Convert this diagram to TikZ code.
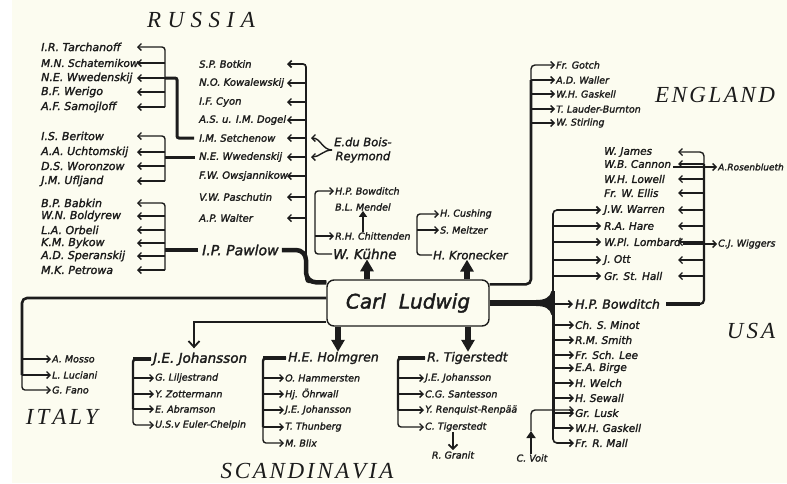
\documentclass[tikz,border=0pt]{standalone}
\usepackage{fontspec}
\setmainfont{Liberation Serif}
\newfontfamily\nmf{DejaVu Sans}[FakeBold=1.8]
\usetikzlibrary{arrows.meta}
\definecolor{bg}{HTML}{FCFCF0}
\definecolor{ink}{HTML}{1C1C1C}
\tikzset{
 nm/.style={font=\nmf\itshape\fontsize{10.5}{12}\selectfont, inner sep=0pt, text=ink, anchor=west},
 nml/.style={nm, font=\nmf\itshape\fontsize{11}{13}\selectfont},
 nmm/.style={nm, font=\nmf\itshape\fontsize{10}{12}\selectfont},
 ns/.style={nm, font=\nmf\itshape\fontsize{9.5}{11}\selectfont},
 nb/.style={nm, font=\nmf\itshape\fontsize{12.5}{15}\selectfont},
 ttl/.style={font=\itshape\fontsize{23}{26}\selectfont, inner sep=0pt, text=ink},
 ln/.style={draw=ink, line width=1.4pt},
 arr/.style={ln, -{Straight Barb[length=3.5pt,width=7pt]}},
 hv/.style={draw=ink, line width=3pt},
 big/.style={draw=ink, line width=5.5pt, -{Triangle[length=12pt,width=13pt]}},
}
\begin{document}
\begin{tikzpicture}[x=1pt,y=-1pt]
\fill[bg] (0,0) rectangle (787,483);
\fill[white] (0,0) rectangle (12,483);
\useasboundingbox (0,0) rectangle (787,483);

% titles
\node[ttl] (russia) at (201,20) {R\kern6.5pt U\kern6.5pt S\kern6.5pt S\kern6.5pt I\kern6.5pt A};
\node[ttl] (england) at (715,95) {E\kern2.5pt N\kern2.5pt G\kern2.5pt L\kern2.5pt A\kern2.5pt N\kern2.5pt D};
\node[ttl] (usa) at (751,331) {U\kern3pt S\kern3pt A};
\node[ttl] (italy) at (62,417) {I\kern3pt T\kern3pt A\kern3pt L\kern3pt Y};
\node[ttl] (scand) at (307,471) {S\kern2.7pt C\kern2.7pt A\kern2.7pt N\kern2.7pt D\kern2.7pt I\kern2.7pt N\kern2.7pt A\kern2.7pt V\kern2.7pt I\kern2.7pt A};

% central box
\node[draw=ink, line width=1.4pt, rounded corners=7pt, fill=bg, minimum width=162pt,
      minimum height=46pt, inner sep=0pt, text=ink,
      font=\nmf\itshape\fontsize{20}{24}\selectfont] (cl) at (408,303) {Carl\,\, Ludwig};

% column coordinates
\coordinate (k1) at (165,0);
\coordinate (p1) at (137,0);
\coordinate (k2) at (306,0);
\coordinate (p2) at (287,0);
\coordinate (p3) at (311,0);
\coordinate (j1) at (177,78);

% Russia, left groups
\foreach \n/\y/\t in {r1/47/{I.R. Tarchanoff}, r3/78/{N.E. Wwedenskij},
  r4/92/{B.F. Werigo}, r5/107/{A.F. Samojloff}, s1/136/{I.S. Beritow}, s2/152/{A.A. Uchtomskij},
  s3/166/{D.S. Woronzow}, s4/181/{J.M. Ufljand}, q1/203/{B.P. Babkin}, q2/216/{W.N. Boldyrew},
  q3/230/{L.A. Orbeli}, q4/243/{K.M. Bykow}, q5/256/{A.D. Speranskij}, q6/270/{M.K. Petrowa}}
  \node[nml] (\n) at (41,\y) {\t};
\node[nm] (r2) at (41,63) {M.N. Schatemikow};

% Russia, middle column
\foreach \n/\y/\t in {m1/64/{S.P. Botkin}, m2/83/{N.O. Kowalewskij}, m3/102/{I.F. Cyon},
  m4/120/{A.S. u. I.M. Dogel}, m5/138/{I.M. Setchenow}, m6/157/{N.E. Wwedenskij},
  m7/176/{F.W. Owsjannikow}, m8/197/{V.W. Paschutin}, m9/218/{A.P. Walter}}
  \node[nmm] (\n) at (199,\y) {\t};
\node[nb, font=\nmf\itshape\fontsize{14}{16}\selectfont] (pw) at (202,250) {I.P. Pawlow};

\draw[arr, rounded corners=3pt] (k1 |- r5) -- (k1 |- r1) -- (p1 |- r1);
\foreach \n in {r2,r3,r4,r5} \draw[arr] (k1 |- \n) -- (p1 |- \n);
\draw[arr, rounded corners=3pt] (k1 |- s4) -- (k1 |- s1) -- (p1 |- s1);
\foreach \n in {s2,s3,s4} \draw[arr] (k1 |- \n) -- (p1 |- \n);
\draw[arr, rounded corners=3pt] (k1 |- q6) -- (k1 |- q1) -- (p1 |- q1);
\foreach \n in {q2,q3,q4,q5,q6} \draw[arr] (k1 |- \n) -- (p1 |- \n);

\draw[hv, rounded corners=2pt] ([xshift=-5pt]m5.west) -| (j1) -- (k1 |- r3);
\draw[hv] ([xshift=-4pt]m6.west) -- (k1 |- m6);
\draw[hv, line width=4.5pt] ([xshift=-4pt]pw.west) -- (k1 |- pw);

\draw[arr, line width=1.7pt, rounded corners=3pt] ([yshift=-3pt]cl.north west) -| (k2 |- m1) -- (p2 |- m1);
\foreach \n in {m2,m3,m4,m5,m6,m7,m8,m9} \draw[arr] (k2 |- \n) -- (p2 |- \n);
\draw[hv, line width=4.5pt, rounded corners=10pt] ([xshift=3pt]pw.east) -- (k2 |- pw)
   -- ([yshift=-3pt]k2 |- cl.north) -- ([yshift=-3pt]cl.north west);

% du Bois-Reymond
\node[font=\nmf\itshape\fontsize{11.5}{14}\selectfont, inner sep=0pt, text=ink, align=center,
      anchor=west] (br) at (334,150) {E.du Bois-\\Reymond};
\draw[arr] ([xshift=-2pt]br.west) to[out=180,in=0] (p3 |- m5);
\draw[arr] ([xshift=-2pt]br.west) to[out=180,in=0] (p3 |- m6);

% Kuehne group
\node[ns] (kb) at (335,191) {H.P. Bowditch};
\node[ns] (km) at (335,207) {B.L. Mendel};
\node[ns] (kc) at (335,236) {R.H. Chittenden};
\node[nb, font=\nmf\itshape\fontsize{13.5}{16}\selectfont] (kw) at (333,254) {W. Kühne};
\coordinate (k3) at (315,0);
\coordinate (ka) at (363,0);
\coordinate (ka1) at (367,0);
\draw[arr, rounded corners=3pt] ([xshift=-1pt]kw.west) -| (k3 |- kb) -- ([xshift=-1pt]kb.west);
\draw[arr] (k3 |- kc) -- ([xshift=-1pt]kc.west);
\draw[draw=ink, line width=2pt, -{Triangle[length=6pt,width=8pt]}] (kc.north -| ka) -- (km.south -| ka);

% Kronecker group
\node[ns] (hc) at (440,214) {H. Cushing};
\node[ns] (hs) at (440,230) {S. Meltzer};
\node[nb, font=\nmf\itshape\fontsize{11.5}{14}\selectfont] (hk) at (433,255) {H. Kronecker};
\coordinate (k4) at (417,0);
\coordinate (ka2) at (467,0);
\draw[arr, rounded corners=3pt] ([xshift=-1pt]hk.west) -| (k4 |- hc) -- ([xshift=-1pt]hc.west);
\draw[arr] (k4 |- hs) -- ([xshift=-1pt]hs.west);

\draw[big] (cl.north -| ka1) -- (kw.south -| ka1);
\draw[big] (cl.north -| ka2) -- (hk.south -| ka2);

% England
\coordinate (k5) at (531,0);
\foreach \n/\y/\t in {e1/65/{Fr. Gotch}, e2/80/{A.D. Waller}, e3/94/{W.H. Gaskell},
  e4/109/{T. Lauder-Burnton}, e5/123/{W. Stirling}}
  \node[ns] (\n) at (556,\y) {\t};
\draw[draw=ink, line width=2.6pt, rounded corners=5pt] ([yshift=-5pt]cl.north east) -| (k5 |- e2);
\draw[arr, rounded corners=4pt] (k5 |- e2) -- (k5 |- e1) -- ([xshift=-1pt]e1.west);
\foreach \n in {e2,e3,e4,e5} \draw[arr] (k5 |- \n) -- ([xshift=-1pt]\n.west);

% Italy
\coordinate (k6) at (22,0);
\node[ns] (i1) at (52,359) {A. Mosso};
\node[ns] (i2) at (52,375) {L. Luciani};
\node[ns] (i3) at (52,390) {G. Fano};
\draw[draw=ink, line width=2.6pt, rounded corners=5pt] ([yshift=5pt]cl.west) -| (k6 |- i2);
\draw[arr, rounded corners=3pt] (k6 |- i2) -- (k6 |- i3) -- ([xshift=-1pt]i3.west);
\draw[arr] (k6 |- i1) -- ([xshift=-1pt]i1.west);
\draw[arr] (k6 |- i2) -- ([xshift=-1pt]i2.west);

% Johansson
\node[nb, font=\nmf\itshape\fontsize{13.5}{16}\selectfont] (jj) at (153,359) {J.E. Johansson};
\coordinate (k7) at (194,0);
\coordinate (k8) at (133,0);
\draw[draw=ink, line width=1.8pt, -{Straight Barb[length=6pt,width=11pt]}]
   ([yshift=-19pt]cl.west) -| ([yshift=4pt]k7 |- jj.north);
\foreach \n/\y/\t in {j1/378/{G. Liljestrand}, j2/394/{Y. Zottermann}, j3/409/{E. Abramson},
  j4/425/{U.S.v Euler-Chelpin}}
  \node[ns] (\n) at (155,\y) {\t};
\draw[hv, line width=3.5pt] ([xshift=-2pt]jj.west) -- (k8 |- jj);
\draw[draw=ink, line width=2.4pt, rounded corners=3pt] ([xshift=-2pt]jj.west) -| (k8 |- j3);
\draw[arr, rounded corners=3pt] (k8 |- j3) -- (k8 |- j4) -- ([xshift=-1pt]j4.west);
\foreach \n in {j1,j2,j3} \draw[arr] (k8 |- \n) -- ([xshift=-1pt]\n.west);

% Holmgren
\node[nb] (hg) at (288,358) {H.E. Holmgren};
\coordinate (k9) at (263,0);
\coordinate (ha) at (338,0);
\foreach \n/\y/\t in {h1/378/{O. Hammersten}, h2/394/{Hj. Öhrwall}, h3/410/{J.E. Johansson},
  h4/427/{T. Thunberg}, h5/443/{M. Blix}}
  \node[ns] (\n) at (285,\y) {\t};
\draw[hv, line width=3.5pt] ([xshift=-2pt]hg.west) -- (k9 |- hg);
\draw[draw=ink, line width=2.4pt, rounded corners=3pt] ([xshift=-2pt]hg.west) -| (k9 |- h4);
\draw[arr, rounded corners=3pt] (k9 |- h4) -- (k9 |- h5) -- ([xshift=-1pt]h5.west);
\foreach \n in {h1,h2,h3,h4} \draw[arr] (k9 |- \n) -- ([xshift=-1pt]\n.west);
\draw[big] (cl.south -| ha) -- (hg.north -| ha);

% Tigerstedt
\node[nb] (tg) at (427,358) {R. Tigerstedt};
\coordinate (k10) at (398,0);
\coordinate (ta) at (468,0);
\coordinate (tx) at (453,0);
\foreach \n/\y/\t in {t1/378/{J.E. Johansson}, t2/394/{C.G. Santesson}, t3/410/{Y. Renquist-Renpää},
  t4/427/{C. Tigerstedt}}
  \node[ns] (\n) at (425,\y) {\t};
\node[ns, anchor=center] (rg) at (453,455) {R. Granit};
\draw[hv, line width=3.5pt] ([xshift=-2pt]tg.west) -- (k10 |- tg);
\draw[draw=ink, line width=2.4pt, rounded corners=3pt] ([xshift=-2pt]tg.west) -| (k10 |- t3);
\draw[arr, rounded corners=3pt] (k10 |- t3) -- (k10 |- t4) -- ([xshift=-1pt]t4.west);
\foreach \n in {t1,t2,t3} \draw[arr] (k10 |- \n) -- ([xshift=-1pt]\n.west);
\draw[big] (cl.south -| ta) -- (tg.north -| ta);
\draw[draw=ink, line width=1.7pt, -{Straight Barb[length=4.5pt,width=9pt]}] (tx |- t4.south) -- ([yshift=1pt]tx |- rg.north);

% USA
\coordinate (k11) at (553,0);
\coordinate (k12) at (704,0);
\coordinate (p12) at (678,0);
\draw[draw=ink, line width=5.5pt] (cl.east) -- (k11 |- cl.east);
\fill[ink] (536,300) .. controls (546,300) and (550,297) .. (551.5,291) -- (554.8,291)
   -- (554.8,315) -- (551.5,315) .. controls (550,309) and (546,306) .. (536,306) -- cycle;
\node[nb] (ub) at (575,304) {H.P. Bowditch};
\foreach \n/\y/\t in {u1/210/{J.W. Warren}, u2/226/{R.A. Hare}, u3/242/{W.Pl. Lombard},
  u4/260/{J. Ott}, u5/276/{Gr. St. Hall}, w1/152/{W. James}, w2/164/{W.B. Cannon},
  w3/179/{W.H. Lowell}, w4/193/{Fr. W. Ellis}}
  \node[nm] (\n) at (604,\y) {\t};
\foreach \n/\y/\t in {l1/325/{Ch. S. Minot}, l2/340/{R.M. Smith}, l3/355/{Fr. Sch. Lee},
  l4/368/{E.A. Birge}, l5/383/{H. Welch}, l6/398/{H. Sewall}, l7/413/{Gr. Lusk},
  l8/428/{W.H. Gaskell}, l9/443/{Fr. R. Mall}}
  \node[nm] (\n) at (575,\y) {\t};
\draw[draw=ink, line width=1.8pt] (k11 |- ub) -- (k11 |- u2);
\draw[arr, line width=1.6pt, rounded corners=4pt] (k11 |- u2) -- (k11 |- u1) -- ([xshift=-3pt]u1.west);
\foreach \n in {u2,u3,u4,u5} \draw[arr, line width=1.5pt] (k11 |- \n) -- ([xshift=-3pt]\n.west);
\draw[arr, line width=1.6pt] (k11 |- ub) -- ([xshift=-2pt]ub.west);
\draw[draw=ink, line width=3pt] (k11 |- ub) -- (k11 |- l8);
\draw[arr, line width=1.6pt, rounded corners=4pt] (k11 |- l8) -- (k11 |- l9) -- ([xshift=-1pt]l9.west);
\foreach \n in {l1,l2,l3,l4,l5,l6,l7,l8} \draw[arr, line width=1.5pt] (k11 |- \n) -- ([xshift=-1pt]\n.west);

\draw[draw=ink, line width=2.2pt, rounded corners=4pt] ([xshift=6pt]ub.east) -| (k12 |- w2);
\draw[draw=ink, line width=4pt] ([xshift=6pt]ub.east) -- ([xshift=-4pt]k12 |- ub);
\draw[arr, rounded corners=4pt] (k12 |- w2) -- (k12 |- w1) -- (p12 |- w1);
\foreach \n in {w2,w3,w4,u1,u2,u3,u4,u5} \draw[arr] (k12 |- \n) -- (p12 |- \n);

\node[font=\nmf\itshape\fontsize{9}{10}\selectfont, inner sep=0pt, anchor=west, text=ink] (ro) at (718,167) {A.Rosenblueth};
\node[ns] (cw) at (718,244) {C.J. Wiggers};
\coordinate (cs) at ([xshift=2pt]w2.east);
\coordinate (cs2) at ([xshift=2pt]u3.east);
\draw[arr] (cs |- ro.west) -- ([xshift=-1pt]ro.west);
\draw[arr] (cs2 |- cw.west) -- ([xshift=-1pt]cw.west);

% Voit
\node[ns, anchor=center] (cv) at (532,458) {C. Voit};
\coordinate (vt) at (531,431);
\coordinate (vl) at ([yshift=3pt]l7.west);
\draw[draw=ink, line width=2.8pt, -{Triangle[length=7pt,width=9pt]}] (cv.north -| vt) -- (vt);
\draw[arr, rounded corners=4pt] (vt) |- ([xshift=-1pt]vl);
\end{tikzpicture}
\end{document}
